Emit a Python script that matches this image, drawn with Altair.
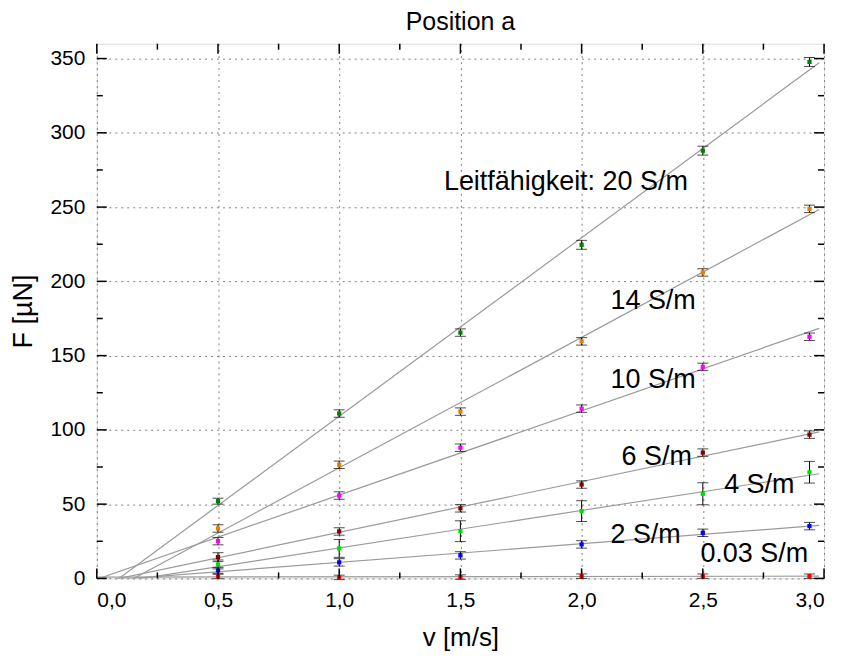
import altair as alt
import pandas as pd

# ---- data ----
v = [0.5, 1.0, 1.5, 2.0, 2.5, 2.94]
series_names = ["20 S/m", "14 S/m", "10 S/m", "6 S/m", "4 S/m", "2 S/m", "0.03 S/m"]
F_20 = [52.0, 111.0, 165.5, 224.6, 288.0, 347.7]
F_14 = [33.6, 76.5, 112.3, 159.6, 206.0, 248.8]
F_10 = [25.1, 55.8, 88.0, 114.3, 142.4, 162.7]
F_6 = [14.3, 31.6, 47.2, 63.2, 84.7, 96.8]
F_4 = [9.4, 20.2, 31.8, 45.3, 57.0, 71.5]
F_2 = [5.4, 10.8, 15.5, 22.9, 30.7, 35.2]
F_003 = [1.3, 0.7, 0.9, 1.5, 1.5, 1.5]
E_20 = [2.0, 2.5, 2.5, 3.0, 3.0, 3.0]
E_14 = [2.5, 2.5, 2.5, 2.5, 2.5, 2.5]
E_10 = [2.5, 2.5, 2.5, 2.5, 2.5, 2.5]
E_6 = [3.0, 2.5, 2.5, 2.5, 2.5, 2.5]
E_4 = [3.0, 6.0, 7.0, 7.0, 7.4, 7.3]
E_2 = [2.0, 2.5, 2.5, 2.5, 2.5, 2.5]
E_003 = [1.5, 1.5, 1.5, 1.5, 1.5, 1.5]
colors = ["#008000", "#e08000", "#ff00ff", "#800000", "#00e000", "#0000ff", "#ff0000"]

label_texts = ["Leitfähigkeit: 20 S/m", "14 S/m", "10 S/m", "6 S/m", "4 S/m", "2 S/m", "0.03 S/m"]
label_v = [1.432, 2.119, 2.119, 2.165, 2.588, 2.119, 2.490]
label_F = [267.0, 186.9, 133.8, 81.4, 63.2, 28.9, 16.1]

x_major = [0.0, 0.5, 1.0, 1.5, 2.0, 2.5, 3.0]
x_minor = [0.25, 0.75, 1.25, 1.75, 2.25, 2.75]
y_major = [0, 50, 100, 150, 200, 250, 300, 350]
y_minor = [25, 75, 125, 175, 225, 275, 325]

W, H = 729, 536
FONT = "Liberation Sans"

# ---- tables ----
allF = [F_20, F_14, F_10, F_6, F_4, F_2, F_003]
allE = [E_20, E_14, E_10, E_6, E_4, E_2, E_003]
rows = []
for name, Fs, Es in zip(series_names, allF, allE):
    for xv, fv, ev in zip(v, Fs, Es):
        rows.append({"series": name, "v": xv, "F": fv, "lo": fv - ev, "hi": fv + ev})
df = pd.DataFrame(rows)
labels_df = pd.DataFrame({"label": label_texts, "v": label_v, "F": label_F})

xscale = alt.Scale(domain=[0, 3.0], nice=False, zero=False)
yscale = alt.Scale(domain=[0, 360], nice=False, zero=False)
cscale = alt.Scale(domain=series_names, range=colors)

xaxis = alt.Axis(values=x_major, title="v [m/s]", grid=True, gridDash=[2, 4], gridColor="#808080",
                 gridWidth=1, domain=False, ticks=False, tickSize=0, labelPadding=11,
                 labelExpr="replace(format(datum.value, '.1f'), '.', ',')",
                 labelFontSize=21, titleFontSize=26, titlePadding=14, titleFontWeight="normal",
                 labelColor="black", titleColor="black", labelFont=FONT, titleFont=FONT)
yaxis = alt.Axis(values=y_major, title="F [µN]", grid=True, gridDash=[2, 4], gridColor="#808080",
                 gridWidth=1, domain=False, ticks=False, tickSize=0, labelPadding=12, format="d",
                 labelFontSize=21, titleFontSize=27, titlePadding=12, titleFontWeight="normal",
                 labelColor="black", titleColor="black", labelFont=FONT, titleFont=FONT)

base = alt.Chart(df)

lines = base.transform_regression("v", "F", groupby=["series"], extent=[0, 2.98]).mark_line(
    color="#9a9a9a", strokeWidth=1.2, clip=True
).encode(
    x=alt.X("v:Q", scale=xscale, axis=xaxis),
    y=alt.Y("F:Q", scale=yscale, axis=yaxis),
    detail="series:N",
)

errs = base.mark_errorbar(ticks={"size": 11}, color="black", thickness=1).encode(
    x=alt.X("v:Q"),
    y=alt.Y("lo:Q", title="F [µN]"),
    y2="hi:Q",
)

pts = base.mark_square(size=18, opacity=1).encode(
    x="v:Q",
    y="F:Q",
    color=alt.Color("series:N", scale=cscale, legend=None),
)

texts = alt.Chart(labels_df).mark_text(align="left", baseline="middle", fontSize=27, font=FONT,
                                        color="black").encode(
    x="v:Q", y="F:Q", text="label:N"
)

def xticks(vals, length):
    d = alt.Chart(pd.DataFrame({"v": vals}))
    bot = d.mark_rule(color="black", strokeWidth=1.5).encode(
        x="v:Q", y=alt.value(H), y2=alt.value(H - length))
    top = d.mark_rule(color="black", strokeWidth=1.5).encode(
        x="v:Q", y=alt.value(0), y2=alt.value(length))
    return [bot, top]

def yticks(vals, length):
    d = alt.Chart(pd.DataFrame({"F": vals}))
    left = d.mark_rule(color="black", strokeWidth=1.5).encode(
        y="F:Q", x=alt.value(0), x2=alt.value(length))
    right = d.mark_rule(color="black", strokeWidth=1.5).encode(
        y="F:Q", x=alt.value(W), x2=alt.value(W - length))
    return [left, right]

tick_layers = xticks(x_major, 10) + xticks(x_minor, 6) + yticks(y_major, 10) + yticks(y_minor, 6)

chart = alt.layer(lines, errs, pts, *tick_layers, texts).properties(
    width=W, height=H,
    title=alt.TitleParams("Position a", fontSize=25, fontWeight="normal", font=FONT, offset=8,
                          color="black"),
    autosize=alt.AutoSizeParams(type="none"),
    padding={"left": 89, "top": 35, "right": 10, "bottom": 80},
).configure_view(stroke="black", strokeWidth=2).configure(font=FONT)

chart.save("out.html", embed_options={"renderer": "svg", "actions": False})
